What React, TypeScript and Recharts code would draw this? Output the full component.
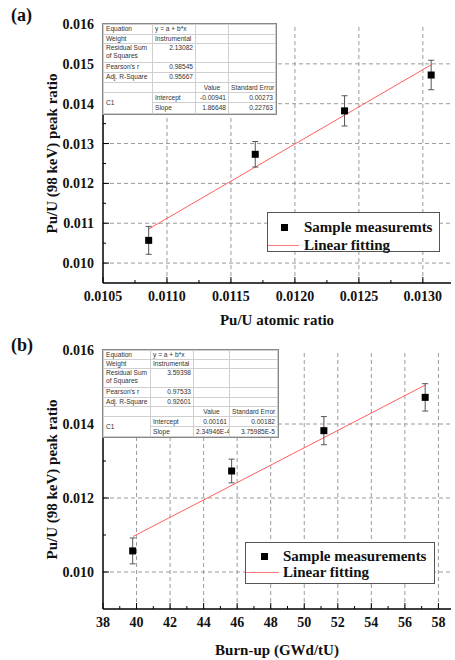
import React from 'react';
import {
  ComposedChart,
  Scatter,
  Line,
  XAxis,
  YAxis,
  ErrorBar,
  ReferenceLine,
  Legend,
  Label
} from 'recharts';

const serif = '"Liberation Serif", "Times New Roman", serif';
const sans = '"Liberation Sans", Arial, sans-serif';

// measured Pu/U (98 keV) peak ratios and their errors (same samples in both panels)
const peakRatio = [0.01057, 0.01273, 0.01382, 0.01472];
const peakErr = [0.00035, 0.00032, 0.00038, 0.00037];

// (a) against Pu/U atomic ratio
const atomicRatio = [0.010857, 0.01169, 0.012388, 0.013065];
const fitAtomicX = [0.010857, 0.013065];
const fitAtomicY = [0.010855, 0.014976];
const atomicMajor = [0.0105, 0.011, 0.0115, 0.012, 0.0125, 0.013];
const atomicMinor = [0.01075, 0.01125, 0.01175, 0.01225, 0.01275];
const peakMajorA = [0.01, 0.011, 0.012, 0.013, 0.014, 0.015, 0.016];
const peakMinorA = [0.0105, 0.0115, 0.0125, 0.0135, 0.0145, 0.0155];

// (b) against burn-up
const burnup = [39.77, 45.67, 51.17, 57.21];
const fitBurnX = [39.8, 57.21];
const fitBurnY = [0.010961, 0.015051];
const burnMajor = [38, 40, 42, 44, 46, 48, 50, 52, 54, 56, 58];
const burnMinor = [39, 41, 43, 45, 47, 49, 51, 53, 55, 57];
const peakMajorB = [0.01, 0.012, 0.014, 0.016];
const peakMinorB = [0.011, 0.013, 0.015];

// fit report tables
const statNames = ['Equation', 'Weight', 'Residual Sum of Squares', "Pearson's r", 'Adj. R-Square'];
const statsA = ['y = a + b*x', 'Instrumental', '2.13082', '0.98545', '0.95667'];
const statsB = ['y = a + b*x', 'Instrumental', '3.59398', '0.97533', '0.92601'];
const interceptA = ['-0.00941', '0.00273'];
const slopeA = ['1.86648', '0.22763'];
const interceptB = ['0.00161', '0.00182'];
const slopeB = ['2.34946E-4', '3.75985E-5'];

const pts = (xs: number[]) => xs.map((x, i) => ({ x, y: peakRatio[i], err: peakErr[i] }));
const fit = (xs: number[], ys: number[]) => xs.map((x, i) => ({ x, y: ys[i] }));

const isIn = (list: number[], v: number) => list.some((m) => Math.abs(m - v) < 1e-9);

const tickText = { fontFamily: serif, fontWeight: 'bold' as const, fontSize: 14, fill: '#111' };

const FitTable = ({ left, top, cols, rows, stats, icpt, slope }: any) => {
  const cell = (extra: any = {}) => ({
    border: '1px solid #cfcfcf',
    padding: '0 2px',
    whiteSpace: 'nowrap' as const,
    overflow: 'hidden',
    ...extra
  });
  return (
    <table
      style={{
        position: 'absolute',
        left,
        top,
        borderCollapse: 'collapse',
        tableLayout: 'fixed',
        width: cols.reduce((a: number, b: number) => a + b, 0),
        background: '#fff',
        fontFamily: sans,
        fontSize: 6.6,
        lineHeight: '8px',
        color: '#333',
        outline: '1px solid #888'
      }}
    >
      <colgroup>
        {cols.map((w: number, i: number) => (
          <col key={i} style={{ width: w }} />
        ))}
      </colgroup>
      <tbody>
        {statNames.map((n, i) => (
          <tr key={n} style={{ height: rows[i] }}>
            <td style={cell({ whiteSpace: 'normal', verticalAlign: 'top' })}>{n}</td>
            <td style={cell({ textAlign: i < 2 ? 'left' : 'right', verticalAlign: 'top' })}>{stats[i]}</td>
            <td style={cell()} />
            <td style={cell()} />
          </tr>
        ))}
        <tr style={{ height: rows[5] }}>
          <td style={cell()} />
          <td style={cell()} />
          <td style={cell({ textAlign: 'center' })}>Value</td>
          <td style={cell({ textAlign: 'center' })}>Standard Error</td>
        </tr>
        <tr style={{ height: rows[6] }}>
          <td rowSpan={2} style={cell()}>C1</td>
          <td style={cell()}>Intercept</td>
          <td style={cell({ textAlign: 'right' })}>{icpt[0]}</td>
          <td style={cell({ textAlign: 'right' })}>{icpt[1]}</td>
        </tr>
        <tr style={{ height: rows[7] }}>
          <td style={cell()}>Slope</td>
          <td style={cell({ textAlign: 'right' })}>{slope[0]}</td>
          <td style={cell({ textAlign: 'right' })}>{slope[1]}</td>
        </tr>
      </tbody>
    </table>
  );
};

const LegendBox = ({ name, w, h, mx, my, tx, ly, ll }: any) => (
  <div
    style={{
      width: w,
      height: h,
      boxSizing: 'border-box',
      border: '1px solid #555',
      background: '#fff',
      position: 'relative',
      fontFamily: serif,
      fontWeight: 'bold',
      fontSize: 15,
      color: '#111'
    }}
  >
    <div style={{ position: 'absolute', left: mx - 3.5, top: my - 3.5, width: 7, height: 7, background: '#000' }} />
    <div style={{ position: 'absolute', left: tx, top: my - 9, lineHeight: '18px', whiteSpace: 'nowrap' }}>{name}</div>
    <div style={{ position: 'absolute', left: 0, top: ly, width: ll, height: 1, background: '#ff7a7a' }} />
    <div style={{ position: 'absolute', left: tx, top: ly - 9, lineHeight: '18px', whiteSpace: 'nowrap' }}>Linear fitting</div>
  </div>
);

const Panel = (p: any) => {
  const xTicks = [...p.xMajor, ...p.xMinor].sort((a, b) => a - b);
  const yTicks = [...p.yMajor, ...p.yMinor].sort((a, b) => a - b);
  const axisLine = { stroke: '#000', strokeWidth: 1.5 };

  const bottomTick = (t: any) => {
    const major = isIn(p.xMajor, t.payload.value);
    return (
      <g>
        <line x1={t.x} x2={t.x} y1={t.y} y2={t.y - (major ? 6 : 3)} stroke="#000" />
        {major && (
          <text x={t.x} y={t.y + 18} textAnchor="middle" {...tickText}>
            {p.xFmt(t.payload.value)}
          </text>
        )}
      </g>
    );
  };
  const topTick = (t: any) => {
    const major = isIn(p.xMajor, t.payload.value);
    return <line x1={t.x} x2={t.x} y1={t.y} y2={t.y + (major ? 6 : 3)} stroke="#000" />;
  };
  const leftTick = (t: any) => {
    const major = isIn(p.yMajor, t.payload.value);
    return (
      <g>
        <line x1={t.x} x2={t.x + (major ? 6 : 3)} y1={t.y} y2={t.y} stroke="#000" />
        {major && (
          <text x={t.x - 9} y={t.y + 5} textAnchor="end" {...tickText}>
            {t.payload.value.toFixed(3)}
          </text>
        )}
      </g>
    );
  };
  const rightTick = (t: any) => {
    const major = isIn(p.yMajor, t.payload.value);
    return <line x1={t.x} x2={t.x - (major ? 6 : 3)} y1={t.y} y2={t.y} stroke="#000" />;
  };

  return (
    <div style={{ position: 'absolute', left: 0, top: p.top, width: 455, height: 330 }}>
      <ComposedChart width={455} height={330} margin={{ top: p.plotTop, right: 4, left: 0, bottom: 0 }}>
        <XAxis
          dataKey="x"
          type="number"
          domain={p.xDomain}
          allowDataOverflow
          ticks={xTicks}
          interval={0}
          tickSize={0}
          tickMargin={0}
          tickLine={false}
          axisLine={axisLine}
          height={p.xAxisH}
          tick={bottomTick}
        >
          <Label
            value={p.xLabel}
            position="insideBottom"
            offset={5}
            fontFamily={serif}
            fontWeight="bold"
            fontSize={15}
            fill="#111"
          />
        </XAxis>
        <XAxis
          xAxisId="top"
          orientation="top"
          dataKey="x"
          type="number"
          domain={p.xDomain}
          allowDataOverflow
          ticks={xTicks}
          interval={0}
          tickSize={0}
          tickMargin={0}
          tickLine={false}
          axisLine={axisLine}
          height={0}
          tick={topTick}
        />
        <YAxis
          type="number"
          domain={p.yDomain}
          allowDataOverflow
          ticks={yTicks}
          interval={0}
          tickSize={0}
          tickMargin={0}
          tickLine={false}
          axisLine={axisLine}
          width={103}
          tick={leftTick}
        >
          <Label
            value="Pu/U (98 keV) peak ratio"
            position="center"
            angle={-90}
            fontFamily={serif}
            fontWeight="bold"
            fontSize={15}
            fill="#111"
          />
        </YAxis>
        <YAxis
          yAxisId="right"
          orientation="right"
          type="number"
          domain={p.yDomain}
          allowDataOverflow
          ticks={yTicks}
          interval={0}
          tickSize={0}
          tickMargin={0}
          tickLine={false}
          axisLine={axisLine}
          width={0}
          tick={rightTick}
        />
        {p.gridX.map((v: number) => (
          <ReferenceLine key={'gx' + v} x={v} stroke="#9a9a9a" strokeDasharray="4 3" />
        ))}
        {p.gridY.map((v: number) => (
          <ReferenceLine key={'gy' + v} y={v} stroke="#9a9a9a" strokeDasharray="4 3" />
        ))}
        <Line
          data={p.fitData}
          dataKey="y"
          type="linear"
          stroke="#ff5f5f"
          strokeWidth={1}
          dot={false}
          activeDot={false}
          isAnimationActive={false}
        />
        <Scatter
          data={p.points}
          dataKey="y"
          isAnimationActive={false}
          shape={(s: any) => <rect x={s.cx - 3.5} y={s.cy - 3.5} width={7} height={7} fill="#000" />}
        >
          <ErrorBar dataKey="err" direction="y" width={3} stroke="#555" strokeWidth={1} />
        </Scatter>
        <Legend
          layout="vertical"
          align="center"
          verticalAlign="middle"
          wrapperStyle={{ left: p.legend.left, top: p.legend.top, width: p.legend.w, height: p.legend.h }}
          content={() => <LegendBox {...p.legend} />}
        />
      </ComposedChart>
      <FitTable {...p.table} />
      <div
        style={{
          position: 'absolute',
          left: 11,
          top: p.letterTop,
          fontFamily: serif,
          fontWeight: 'bold',
          fontSize: 18,
          color: '#111'
        }}
      >
        {p.letter}
      </div>
    </div>
  );
};

export default function App() {
  return (
    <div style={{ position: 'absolute', left: 0, top: 0, width: 455, height: 660, background: '#fff' }}>
      <Panel
        top={0}
        plotTop={24}
        xAxisH={47}
        letter="(a)"
        letterTop={5}
        xLabel="Pu/U atomic ratio"
        xDomain={[0.0105, 0.01322]}
        yDomain={[0.0095, 0.016]}
        xMajor={atomicMajor}
        xMinor={atomicMinor}
        yMajor={peakMajorA}
        yMinor={peakMinorA}
        xFmt={(v: number) => v.toFixed(4)}
        gridX={atomicMajor.slice(1)}
        gridY={peakMajorA.slice(0, -1)}
        points={pts(atomicRatio)}
        fitData={fit(fitAtomicX, fitAtomicY)}
        legend={{ name: 'Sample measuremts', left: 267, top: 212, w: 173, h: 40, mx: 16, my: 14, tx: 36, ly: 32, ll: 31 }}
        table={{
          left: 103,
          top: 24,
          cols: [49, 43, 33, 47],
          rows: [10, 9, 19, 10, 10, 10, 10, 11],
          stats: statsA,
          icpt: interceptA,
          slope: slopeA
        }}
      />
      <Panel
        top={330}
        plotTop={20}
        xAxisH={51}
        letter="(b)"
        letterTop={5}
        xLabel="Burn-up (GWd/tU)"
        xDomain={[38, 58.75]}
        yDomain={[0.009, 0.016]}
        xMajor={burnMajor}
        xMinor={burnMinor}
        yMajor={peakMajorB}
        yMinor={peakMinorB}
        xFmt={(v: number) => String(v)}
        gridX={burnMajor.slice(1)}
        gridY={peakMajorB.slice(0, -1)}
        points={pts(burnup)}
        fitData={fit(fitBurnX, fitBurnY)}
        legend={{ name: 'Sample measurements', left: 245, top: 212, w: 190, h: 42, mx: 18, my: 13, tx: 37, ly: 29, ll: 33 }}
        table={{
          left: 103,
          top: 20,
          cols: [47, 43, 36, 48],
          rows: [9, 9, 19, 10, 9, 10, 10, 10],
          stats: statsB,
          icpt: interceptB,
          slope: slopeB
        }}
      />
    </div>
  );
}
